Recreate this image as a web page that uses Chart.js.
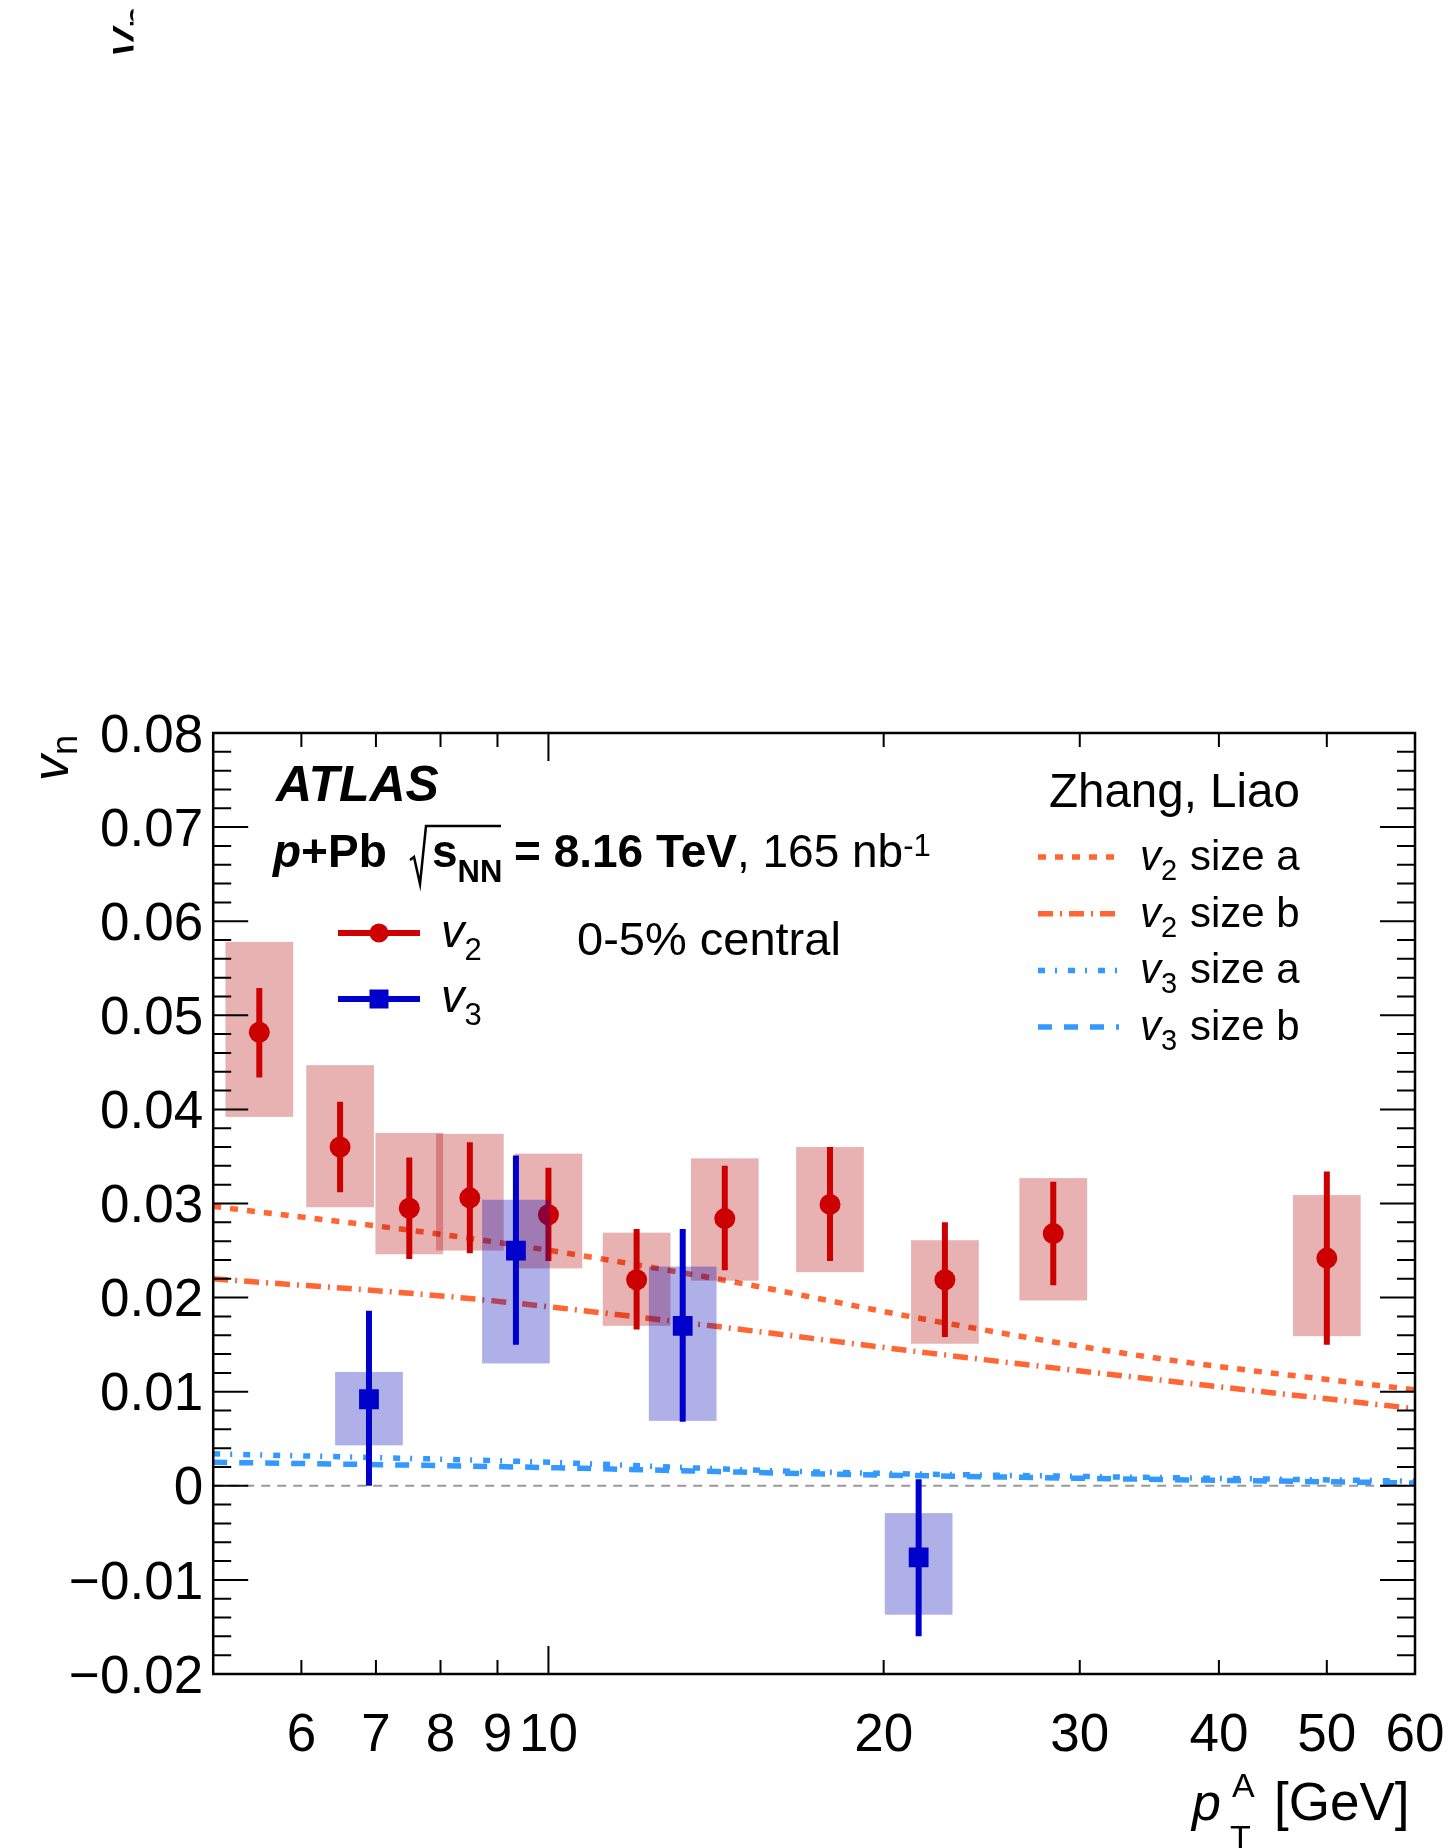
<!DOCTYPE html>
<html>
<head>
<meta charset="utf-8">
<title>v2 and v3 vs pT, p+Pb 0-5% central</title>
<script src="https://cdn.jsdelivr.net/npm/chart.js@4.4.1/dist/chart.umd.min.js"></script>
<style>
  html, body { margin: 0; padding: 0; background: #fff; }
  #wrap { width: 1455px; height: 1848px; }
</style>
</head>
<body>
<div id="wrap"><canvas id="vnChart" width="1455" height="1848"></canvas></div>
<script>
// ---- measured v2 (red circles) ----
var v2Pt     = [5.5, 6.5, 7.5, 8.5, 10, 12, 14.4, 17.9, 22.7, 28.4, 50];
var v2Val    = [0.0482, 0.0360, 0.0295, 0.0306, 0.0288, 0.0219, 0.0284, 0.0299, 0.0219, 0.0268, 0.0242];
var v2StatLo = [0.0434, 0.0312, 0.0241, 0.0247, 0.0239, 0.0166, 0.0229, 0.0239, 0.0158, 0.0213, 0.0150];
var v2StatHi = [0.0529, 0.0408, 0.0349, 0.0365, 0.0338, 0.0273, 0.0340, 0.0360, 0.0280, 0.0323, 0.0334];
var v2SysLo  = [0.0392, 0.0296, 0.0246, 0.0250, 0.0231, 0.0170, 0.0218, 0.0227, 0.0151, 0.0197, 0.0159];
var v2SysHi  = [0.0578, 0.0447, 0.0375, 0.0374, 0.0353, 0.0269, 0.0348, 0.0360, 0.0261, 0.0327, 0.0309];

// ---- measured v3 (blue squares) ----
var v3Pt     = [6.9, 9.35, 13.2, 21.5];
var v3Val    = [0.0092, 0.0250, 0.0170, -0.0076];
var v3StatLo = [0.0000, 0.0150, 0.0068, -0.0160];
var v3StatHi = [0.0186, 0.0351, 0.0273, 0.0007];
var v3SysLo  = [0.0043, 0.0130, 0.0069, -0.0137];
var v3SysHi  = [0.0121, 0.0304, 0.0233, -0.0029];

// ---- Zhang, Liao model curves ----
var modelPtV2  = [5, 8.5, 14, 22, 35, 60];
var v2SizeA    = [0.0297, 0.0263, 0.0221, 0.0176, 0.0136, 0.0102];
var v2SizeB    = [0.0220, 0.0199, 0.0170, 0.0141, 0.0113, 0.0082];
var modelPtV3  = [5, 9.4, 17, 30, 60];
var v3SizeA    = [0.0034, 0.0026, 0.0015, 0.0010, 0.0005];
var v3SizeB    = [0.0025, 0.0020, 0.0013, 0.0008, 0.0003];

// ---- axes ----
var xTickValues = [6, 7, 8, 9, 10, 20, 30, 40, 50, 60];
var xLongTicks  = [10];
var yMin = -0.02, yMax = 0.08, yStep = 0.01, yMinorStep = 0.002;

var FONT = "'Liberation Sans', Arial, Helvetica, sans-serif";
var RED = '#cc0000', BLUE = '#0000cc';
var ORANGE = '#ff6633', SKY = '#3399ff';
var BOX_FACTOR = Math.pow(10, 0.0304);   // half width of the syst. boxes in log10(pT)

function xy(xs, ys) {
    return xs.map(function (x, i) { return { x: x, y: ys[i] }; });
}

function setFont(ctx, size, style) {
    ctx.font = (style || '') + ' ' + size + 'px ' + FONT;
}

// draws a row of text pieces one after another: [text, size, style, dy]
function textRun(ctx, x, y, parts) {
    parts.forEach(function (p) {
        setFont(ctx, p[1], p[2]);
        ctx.fillText(p[0], x, y + (p[3] || 0));
        x += ctx.measureText(p[0]).width;
    });
    return x;
}

function drawBoxes(chart, xs, lo, hi, color) {
    var ctx = chart.ctx, sx = chart.scales.x, sy = chart.scales.y;
    ctx.fillStyle = color;
    for (var i = 0; i < xs.length; i++) {
        var x0 = sx.getPixelForValue(xs[i] / BOX_FACTOR);
        var x1 = sx.getPixelForValue(xs[i] * BOX_FACTOR);
        var y0 = sy.getPixelForValue(hi[i]);
        var y1 = sy.getPixelForValue(lo[i]);
        ctx.fillRect(x0, y0, x1 - x0, y1 - y0);
    }
}

function drawErrorBars(chart, xs, lo, hi, color) {
    var ctx = chart.ctx, sx = chart.scales.x, sy = chart.scales.y;
    ctx.strokeStyle = color;
    ctx.lineWidth = 6;
    ctx.lineCap = 'butt';
    ctx.setLineDash([]);
    for (var i = 0; i < xs.length; i++) {
        var px = sx.getPixelForValue(xs[i]);
        ctx.beginPath();
        ctx.moveTo(px, sy.getPixelForValue(lo[i]));
        ctx.lineTo(px, sy.getPixelForValue(hi[i]));
        ctx.stroke();
    }
}

// boxes and stat. bars go right under the markers of their own series
var uncertaintyPlugin = {
    id: 'uncertainties',
    beforeDatasetsDraw: function (chart) {
        var ctx = chart.ctx, a = chart.chartArea, sy = chart.scales.y;
        var y0 = sy.getPixelForValue(0);
        ctx.save();
        ctx.strokeStyle = '#999999';
        ctx.lineWidth = 2;
        ctx.setLineDash([9, 7]);
        ctx.beginPath();
        ctx.moveTo(a.left, y0);
        ctx.lineTo(a.right, y0);
        ctx.stroke();
        ctx.restore();
    },
    beforeDatasetDraw: function (chart, args) {
        var ds = chart.data.datasets[args.index];
        var ctx = chart.ctx, a = chart.chartArea;
        if (ds.kind !== 'v2' && ds.kind !== 'v3') return;
        ctx.save();
        ctx.beginPath();
        ctx.rect(a.left, a.top, a.right - a.left, a.bottom - a.top);
        ctx.clip();
        if (ds.kind === 'v2') {
            drawBoxes(chart, v2Pt, v2SysLo, v2SysHi, 'rgba(180, 0, 0, 0.3)');
            drawErrorBars(chart, v2Pt, v2StatLo, v2StatHi, RED);
        } else {
            drawBoxes(chart, v3Pt, v3SysLo, v3SysHi, 'rgba(0, 0, 180, 0.31)');
            drawErrorBars(chart, v3Pt, v3StatLo, v3StatHi, BLUE);
        }
        ctx.restore();
    }
};

// frame, inward ticks on all four sides, axis titles and labels
var framePlugin = {
    id: 'frame',
    afterDraw: function (chart) {
        var ctx = chart.ctx, a = chart.chartArea;
        var sx = chart.scales.x, sy = chart.scales.y;
        ctx.save();
        ctx.strokeStyle = '#000';
        ctx.setLineDash([]);

        ctx.lineWidth = 2;
        ctx.beginPath();
        var n = Math.round((yMax - yMin) / yMinorStep);
        for (var i = 0; i <= n; i++) {
            var v = yMin + i * yMinorStep;
            var py = sy.getPixelForValue(v);
            var len = (i % 5 === 0) ? 35 : 18;
            ctx.moveTo(a.left, py); ctx.lineTo(a.left + len, py);
            ctx.moveTo(a.right, py); ctx.lineTo(a.right - len, py);
        }
        xTickValues.forEach(function (t) {
            var px = sx.getPixelForValue(t);
            var len = xLongTicks.indexOf(t) >= 0 ? 28 : 14;
            ctx.moveTo(px, a.bottom); ctx.lineTo(px, a.bottom - len);
            ctx.moveTo(px, a.top); ctx.lineTo(px, a.top + len);
        });
        ctx.stroke();

        ctx.lineWidth = 2.5;
        ctx.strokeRect(a.left, a.top, a.right - a.left, a.bottom - a.top);

        ctx.fillStyle = '#000';
        ctx.textAlign = 'left';
        ctx.textBaseline = 'alphabetic';

        // y title, rotated, ending at the top of the frame
        function yTitle(bx, by, size) {
            ctx.save();
            ctx.translate(bx, by);
            ctx.rotate(-Math.PI / 2);
            textRun(ctx, 0, 0, [['v', size, 'italic'], ['n', size * 0.7, '', 9]]);
            ctx.restore();
        }
        yTitle(68, 781, 52);
        // remains of the same label from the panel above, cut at its edge
        ctx.save();
        ctx.beginPath();
        ctx.rect(0, 0, 133.5, 120);
        ctx.clip();
        yTitle(143, 57, 58);
        ctx.restore();

        // x title
        setFont(ctx, 52, 'italic');
        ctx.fillText('p', 1192, 1820);
        setFont(ctx, 34, '');
        ctx.fillText('A', 1232, 1797);
        ctx.fillText('T', 1230, 1849);
        setFont(ctx, 53, '');
        ctx.fillText('[GeV]', 1274, 1820);

        // ATLAS label block
        setFont(ctx, 50, 'italic bold');
        ctx.fillText('ATLAS', 276, 801);
        textRun(ctx, 273, 867, [['p', 46, 'italic bold'], ['+Pb', 46, 'bold']]);
        ctx.lineWidth = 2.5;
        ctx.lineJoin = 'miter';
        ctx.beginPath();
        ctx.moveTo(410, 860);
        ctx.lineTo(414, 857);
        ctx.lineTo(420, 884);
        ctx.lineTo(426, 826);
        ctx.lineTo(501, 826);
        ctx.stroke();
        textRun(ctx, 432, 867, [['s', 46, 'bold'], ['NN', 31, 'bold', 15]]);
        textRun(ctx, 514, 867, [['= 8.16 TeV', 46, 'bold'], [', 165 nb', 46, ''], ['-1', 31, '', -11]]);

        setFont(ctx, 47, '');
        ctx.fillText('0-5% central', 577, 955);

        // data legend
        ctx.lineWidth = 6;
        ctx.strokeStyle = RED;
        ctx.beginPath(); ctx.moveTo(338, 933); ctx.lineTo(420, 933); ctx.stroke();
        ctx.fillStyle = RED;
        ctx.beginPath(); ctx.arc(379, 933, 9.5, 0, 2 * Math.PI); ctx.fill();
        ctx.strokeStyle = BLUE;
        ctx.beginPath(); ctx.moveTo(338, 999); ctx.lineTo(420, 999); ctx.stroke();
        ctx.fillStyle = BLUE;
        ctx.fillRect(369.5, 989.5, 19, 19);
        ctx.fillStyle = '#000';
        textRun(ctx, 441, 947, [['v', 47, 'italic'], ['2', 31, '', 13]]);
        textRun(ctx, 441, 1012, [['v', 47, 'italic'], ['3', 31, '', 13]]);

        // model legend
        setFont(ctx, 47.5, '');
        ctx.fillText('Zhang, Liao', 1049, 807);
        var models = chart.data.datasets.filter(function (d) { return d.kind === 'model'; });
        models.forEach(function (d, k) {
            var ly = 857 + k * 56.7;
            ctx.strokeStyle = d.borderColor;
            ctx.lineWidth = d.borderWidth;
            ctx.setLineDash(d.borderDash);
            ctx.beginPath(); ctx.moveTo(1038, ly); ctx.lineTo(1119, ly); ctx.stroke();
            ctx.setLineDash([]);
            textRun(ctx, 1140, ly + 13, [['v', 42, 'italic'], [d.harmonic, 29, '', 10]]);
            setFont(ctx, 42, '');
            ctx.fillText(d.label, 1190, ly + 13);
        });
        ctx.restore();
    }
};

function modelSet(label, harmonic, xs, ys, color, dash) {
    return {
        type: 'line', kind: 'model', label: label, harmonic: harmonic,
        data: xy(xs, ys), borderColor: color, borderWidth: 5.5, borderDash: dash,
        borderCapStyle: 'butt', pointRadius: 0, fill: false,
        cubicInterpolationMode: 'monotone', order: 5
    };
}

new Chart(document.getElementById('vnChart').getContext('2d'), {
    type: 'scatter',
    data: {
        datasets: [
            modelSet('size a', '2', modelPtV2, v2SizeA, ORANGE, [8, 9]),
            modelSet('size b', '2', modelPtV2, v2SizeB, ORANGE, [15, 7, 2, 7]),
            modelSet('size a', '3', modelPtV3, v3SizeA, SKY, [7, 10, 2, 11]),
            modelSet('size b', '3', modelPtV3, v3SizeB, SKY, [14, 12]),
            {
                kind: 'v2', label: 'v2', data: xy(v2Pt, v2Val), showLine: false,
                pointStyle: 'circle', pointRadius: 10.5, borderWidth: 0,
                backgroundColor: RED, order: 2
            },
            {
                kind: 'v3', label: 'v3', data: xy(v3Pt, v3Val), showLine: false,
                pointStyle: 'rect', pointRadius: 14, borderWidth: 0,
                backgroundColor: BLUE, order: 1
            }
        ]
    },
    options: {
        responsive: false,
        animation: false,
        devicePixelRatio: 1,
        layout: { padding: { left: 0, top: 733, right: 40, bottom: 0 } },
        plugins: { legend: { display: false }, tooltip: { enabled: false } },
        scales: {
            x: {
                type: 'logarithmic', min: 5, max: 60,
                grid: { display: false, drawTicks: false },
                border: { display: false },
                afterBuildTicks: function (axis) {
                    axis.ticks = xTickValues.map(function (v) { return { value: v }; });
                },
                afterFit: function (axis) {
                    axis.height = 174;
                    // let the last label hang over the right padding
                    axis.paddingLeft = 0;
                    axis.paddingRight = 0;
                },
                ticks: {
                    autoSkip: false, maxRotation: 0, padding: 36, color: '#000',
                    font: { family: FONT, size: 53, lineHeight: 1 },
                    callback: function (value) { return String(value); }
                }
            },
            y: {
                min: yMin, max: yMax,
                grid: { display: false, drawTicks: false },
                border: { display: false },
                afterFit: function (axis) {
                    axis.width = 213.2;
                    axis.paddingTop = 0;
                    axis.paddingBottom = 0;
                },
                ticks: {
                    stepSize: yStep, padding: 10, labelOffset: 4, color: '#000',
                    font: { family: FONT, size: 53, lineHeight: 1 },
                    callback: function (value) {
                        var v = Math.round(value * 100) / 100;
                        if (v === 0) return '0';
                        return (v < 0 ? '\u2212' : '') + Math.abs(v).toFixed(2);
                    }
                }
            }
        }
    },
    plugins: [uncertaintyPlugin, framePlugin]
});
</script>
</body>
</html>
